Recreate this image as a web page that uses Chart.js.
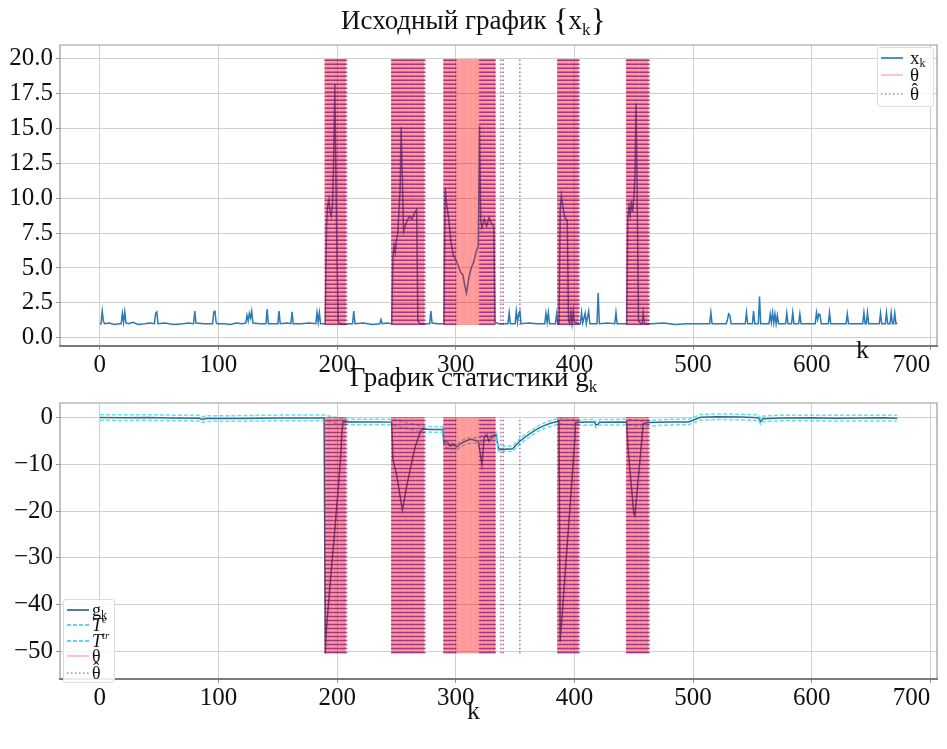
<!DOCTYPE html>
<html><head><meta charset="utf-8">
<script src="https://cdn.jsdelivr.net/npm/chart.js@4.4.1/dist/chart.umd.min.js"></script>
<style>
html,body{margin:0;padding:0;background:#fff;}
body{width:947px;height:749px;position:relative;overflow:hidden;font-family:"Liberation Serif","Times New Roman",serif;color:#111;}
canvas{position:absolute;left:0;}
#c1{top:0;}
#c2{top:385px;}
.title{position:absolute;left:0;width:947px;text-align:center;font-size:27px;line-height:30px;white-space:nowrap;}
.brace{font-size:32px;vertical-align:-2px;}
.title sub{font-size:17px;vertical-align:-6px;line-height:0;}
.lbl{position:absolute;font-size:26px;line-height:28px;}
.legend{position:absolute;background:rgba(255,255,255,0.85);border:1px solid #dcdcdc;border-radius:3px;box-sizing:border-box;}
.it{position:absolute;left:0;height:0;}
.it svg{position:absolute;top:-2px;}
.it .t{position:absolute;top:-11px;line-height:22px;white-space:nowrap;}
.leg1 .t{font-size:19px;}
.leg2 .t{font-size:18px;}
.t sub{font-size:12px;vertical-align:-3px;line-height:0;}
.t sup{font-size:11px;vertical-align:8px;line-height:0;}
.hat{position:relative;display:inline-block;line-height:22px;}
.hat .c{position:absolute;left:0;right:0;text-align:center;top:-0.2em;line-height:22px;}
</style>
</head><body>
<canvas id="c1" width="947" height="380"></canvas>
<canvas id="c2" width="947" height="364"></canvas>

<div class="title" style="top:5px">Исходный график <span class="brace">{</span>x<sub>k</sub><span class="brace">}</span></div>
<div class="title" style="top:362px">График статистики g<sub>k</sub></div>
<div class="lbl" style="left:856px;top:336px">k</div>
<div class="lbl" style="left:467px;top:697px">k</div>

<div class="legend leg1" style="left:877px;top:47px;width:57px;height:60px">
  <div class="it" style="top:10px"><svg width="22" height="4" style="left:3px"><line x1="0" y1="2" x2="22" y2="2" stroke="#4f93bd" stroke-width="2"/></svg><span class="t" style="left:32px">x<sub>k</sub></span></div>
  <div class="it" style="top:27px"><svg width="22" height="4" style="left:3px"><line x1="0" y1="2" x2="22" y2="2" stroke="rgba(255,0,0,0.3)" stroke-width="1.5"/></svg><span class="t" style="left:32px">θ</span></div>
  <div class="it" style="top:46px"><svg width="22" height="4" style="left:3px"><line x1="0" y1="2" x2="22" y2="2" stroke="rgba(110,40,120,0.55)" stroke-width="1.5" stroke-dasharray="1.5 2.5"/></svg><span class="t" style="left:32px"><span class="hat">θ<span class="c">ˆ</span></span></span></div>
</div>

<div class="legend leg2" style="left:63px;top:599px;width:52px;height:84px">
  <div class="it" style="top:10px"><svg width="22" height="4" style="left:3px"><line x1="0" y1="2" x2="22" y2="2" stroke="#4d8299" stroke-width="2"/></svg><span class="t" style="left:28px">g<sub>k</sub></span></div>
  <div class="it" style="top:25px"><svg width="22" height="4" style="left:3px"><line x1="0" y1="2" x2="22" y2="2" stroke="#5fd6e6" stroke-width="2" stroke-dasharray="4 2"/></svg><span class="t" style="left:28px"><i>T</i><sup><i>e</i></sup></span></div>
  <div class="it" style="top:41px"><svg width="22" height="4" style="left:3px"><line x1="0" y1="2" x2="22" y2="2" stroke="#5fd6e6" stroke-width="2" stroke-dasharray="4 2"/></svg><span class="t" style="left:28px"><i>T</i><sup><i>tr</i></sup></span></div>
  <div class="it" style="top:56px"><svg width="22" height="4" style="left:3px"><line x1="0" y1="2" x2="22" y2="2" stroke="rgba(255,0,0,0.3)" stroke-width="1.5"/></svg><span class="t" style="left:28px">θ</span></div>
  <div class="it" style="top:73px"><svg width="22" height="4" style="left:3px"><line x1="0" y1="2" x2="22" y2="2" stroke="rgba(110,40,120,0.55)" stroke-width="1.5" stroke-dasharray="1.5 2.5"/></svg><span class="t" style="left:28px"><span class="hat">θ<span class="c">ˆ</span></span></span></div>
</div>

<script>
// ---------- data ----------
const xTicks = [0, 100, 200, 300, 400, 500, 600, 700];
const xTopYTicks = [0, 2.5, 5, 7.5, 10, 12.5, 15, 17.5, 20];
const gYTicks = [-50, -40, -30, -20, -10, 0];

// x_k : [k, value]
const xk = [[0,1.0],[1,1.0],[2,1.9],[3,1.15],[4,1.0],[8,1.05],[12,0.95],[16,1.0],[18,1.0],[19,1.75],[20,1.1],[21,1.85],[22,1.05],[24,1.0],[28,1.1],[32,0.95],[38,1.0],[42,1.05],[46,1.0],[47,1.75],[48,1.85],[49,1.0],[55,1.05],[62,0.95],[70,1.0],[75,1.05],[79,1.0],[80,1.9],[81,1.05],[88,1.0],[95,1.0],[96,1.85],[97,1.9],[98,1.1],[99,1.0],[105,1.0],[110,0.95],[115,1.05],[120,1.0],[123,1.05],[124,1.6],[125,1.2],[126,1.75],[127,1.4],[128,1.9],[129,1.05],[135,1.0],[140,1.0],[141,2.05],[142,1.0],[146,1.0],[150,1.0],[151,1.9],[152,1.0],[158,1.05],[161,1.0],[162,1.85],[163,1.0],[170,1.0],[176,1.05],[182,1.0],[183,1.8],[184,1.1],[185,1.8],[186,1.0],[190,1.0],
[191,8.0],[192,9.5],[193,9.9],[194,9.0],[195,8.7],[196,9.4],[197,12.5],[198,18.2],[200,5.0],[201,1.1],[203,1.0],[206,0.95],[209,1.0],[213,1.0],[214,1.9],[215,1.0],[222,1.05],[230,0.95],[236,1.0],[237,1.3],[238,1.0],[242,1.05],[246,1.0],
[247,5.8],[248,6.6],[249,6.1],[250,7.0],[251,7.4],[253,10.5],[254,15.1],[256,7.6],[257,7.9],[259,8.4],[261,8.7],[263,8.5],[265,8.9],[267,9.2],[268,1.2],[270,1.0],[274,1.0],[278,1.0],[279,1.9],[280,1.05],[285,1.0],[290,1.0],
[291,10.7],[292,9.8],[294,8.5],[296,6.8],[298,5.9],[300,5.6],[302,5.2],[304,4.7],[306,4.5],[307,4.0],[309,3.2],[311,4.3],[313,5.0],[315,5.4],[317,6.1],[319,6.6],[320,15.2],[321,8.4],[322,7.9],[324,8.5],[326,8.0],[328,8.6],[330,8.2],[332,8.0],[333,1.1],[336,1.0],[340,1.0],[344,1.0],[345,1.8],[346,1.0],[350,1.0],[351,1.9],[352,1.1],[353,1.7],[354,1.9],[355,1.0],[362,1.05],[368,1.0],[375,1.0],[376,1.75],[377,1.1],[378,1.8],[379,1.0],[384,1.0],[385,1.7],[386,1.0],[387,1.0],
[388,9.2],[389,10.2],[390,9.5],[391,9.0],[392,8.6],[394,8.4],[395,1.2],[396,1.0],[397,1.8],[398,1.0],[399,1.9],[400,1.1],[404,1.0],[405,1.0],[406,1.8],[407,1.05],[409,1.75],[410,1.0],[412,1.9],[413,1.0],[419,1.0],[420,3.2],[421,1.0],[428,1.05],[434,1.0],[435,1.8],[436,1.0],[440,1.0],[444,1.0],
[445,8.5],[446,9.4],[447,8.8],[448,9.8],[449,9.0],[450,10.0],[451,11.5],[452,16.8],[453,9.5],[454,1.2],[456,1.0],[457,1.0],[458,1.8],[459,1.0],[465,1.0],[475,1.05],[485,0.95],[495,1.0],[505,1.0],[514,1.0],[515,1.8],[516,1.0],[528,1.0],[529,1.3],[530,1.7],[531,1.6],[532,1.0],[540,1.0],[544,1.0],[545,1.8],[546,1.0],[550,1.0],[551,1.9],[552,1.0],[555,1.0],[556,2.95],[557,1.0],[564,1.0],[565,1.7],[566,1.1],[567,1.8],[568,1.05],[569,1.7],[570,1.0],[571,1.6],[572,1.0],[578,1.0],[579,1.75],[580,1.0],[583,1.0],[584,1.8],[585,1.0],[589,1.0],[590,1.7],[591,1.0],[603,1.0],[604,1.8],[605,1.3],[606,1.7],[607,1.65],[608,1.0],[614,1.0],[615,1.8],[616,1.0],[629,1.0],[630,1.7],[631,1.0],[643,1.0],[644,1.8],[645,1.0],[646,1.0],[647,1.8],[648,1.0],[657,1.0],[658,1.75],[659,1.0],[662,1.0],[663,1.8],[664,1.0],[666,1.0],[667,1.8],[668,1.0],[669,1.0],[670,1.75],[671,1.0],[672,1.05]];

// g_k : [k, value]
const gk = [[0,0.1],[20,0.05],[40,0.1],[60,0.0],[84,-0.05],[86,-0.35],[90,-0.15],[120,-0.1],[150,0.0],[170,0.0],[189,0.0],[190,-50.5],[191,-45],[193,-39],[195,-33],[197,-27],[199,-21],[201,-15],[203,-8],[204,-3],[205,-0.8],[220,-0.9],[235,-0.85],[246,-0.9],[247,-9],[250,-12],[255,-19.8],[258,-15.5],[262,-10.5],[266,-6],[270,-3],[272,-2.4],[280,-2.5],[289,-2.5],[290,-5.5],[292,-5.0],[295,-6.0],[298,-5.8],[301,-6.2],[304,-5.5],[308,-5.0],[312,-4.6],[316,-4.8],[319,-5.0],[322,-10],[324,-4.2],[326,-3.6],[328,-5.0],[331,-3.8],[334,-3.6],[336,-6.6],[338,-6.8],[348,-6.6],[350,-6.0],[354,-5.0],[358,-4.2],[362,-3.5],[366,-2.8],[370,-2.2],[374,-1.7],[378,-1.3],[382,-1.0],[387,-0.7],[388,-48],[390,-41],[392,-34],[394,-27],[396,-20],[398,-13],[400,-6],[401,-1.0],[410,-0.9],[417,-0.9],[418,-1.5],[420,-1.4],[421,-0.95],[444,-0.9],[445,-6],[450,-20.5],[451,-21],[458,-1.2],[462,-1.0],[480,-0.9],[496,-0.85],[500,-0.5],[506,0.15],[520,0.25],[540,0.2],[555,0.05],[557,-0.75],[559,-0.2],[575,0.0],[600,0.05],[620,-0.05],[640,0.0],[660,0.05],[672,-0.05]];

// T^e (upper cyan dashed) : [k, value]
const Te = [[0,0.7],[20,0.65],[40,0.7],[60,0.6],[84,0.55],[86,0.25],[90,0.45],[120,0.5],[150,0.6],[189,0.6],[205,-0.2],[220,-0.3],[235,-0.25],[246,-0.3],[272,-1.8],[289,-1.9],[290,-4.9],[295,-5.4],[301,-5.6],[308,-4.4],[316,-4.2],[319,-4.4],[324,-3.6],[331,-3.2],[334,-3.0],[336,-6.0],[348,-6.0],[354,-4.4],[362,-2.9],[370,-1.6],[378,-0.7],[387,-0.1],[401,-0.4],[417,-0.3],[418,-0.9],[420,-0.8],[421,-0.35],[444,-0.3],[458,-0.6],[480,-0.3],[496,-0.25],[500,0.1],[506,0.75],[520,0.85],[540,0.8],[555,0.65],[557,-0.15],[559,0.4],[575,0.6],[620,0.55],[672,0.55]];

// T^tr (lower cyan dashed) : [k, value]
const Ttr = [[0,-0.5],[20,-0.55],[40,-0.5],[60,-0.6],[84,-0.65],[86,-0.95],[90,-0.75],[120,-0.7],[150,-0.6],[189,-0.6],[205,-1.4],[220,-1.5],[235,-1.45],[246,-1.5],[272,-3.0],[289,-3.1],[290,-6.1],[295,-6.6],[301,-6.8],[308,-5.6],[316,-5.4],[319,-5.6],[324,-4.8],[331,-4.4],[334,-4.2],[336,-7.2],[348,-7.2],[354,-5.6],[362,-4.1],[370,-2.8],[378,-1.9],[387,-1.3],[401,-1.6],[417,-1.5],[418,-2.1],[420,-2.0],[421,-1.55],[444,-1.5],[458,-1.8],[480,-1.5],[496,-1.45],[500,-1.1],[506,-0.45],[520,-0.35],[540,-0.4],[555,-0.55],[557,-1.35],[559,-0.8],[575,-0.6],[620,-0.65],[672,-0.65]];

// change intervals (inclusive k ranges)
const theta = [[190,207],[246,273],[290,333],[386,403],[444,462]];
const thetaHat = [[190,208],[246,274],[290,300],[320,333],[338,338],[340,340],[354,354],[386,404],[444,463]];

// extents of the vertical marks
const vTop = [0.9, 20.0];
const vBottom = [-50.5, 0.2];

// ---------- drawing ----------
const FONT = '"Liberation Serif","Times New Roman",serif';
Chart.defaults.font.family = FONT;
Chart.defaults.color = '#111';

const pts = arr => arr.map(([k, v]) => ({x: k, y: v}));

function vlines(ranges, y0, y1, style) {
  const out = [];
  for (const [a, b] of ranges) {
    for (let k = a; k <= b; k++) {
      out.push(Object.assign({data: [{x: k, y: y0}, {x: k, y: y1}]}, style));
    }
  }
  return out;
}
const redStyle = {borderColor: 'rgba(255,0,0,0.34)', borderWidth: 1.5, pointRadius: 0, borderCapStyle: 'butt', order: 1};
const purpleStyle = {borderColor: 'rgba(115,0,120,0.6)', borderWidth: 1.5, borderDash: [1.6, 2.4], pointRadius: 0, borderCapStyle: 'butt', order: 0};

const frame = {
  id: 'frame',
  afterDatasetsDraw(chart) {
    const {ctx, chartArea: a} = chart;
    ctx.save();
    ctx.strokeStyle = '#9a9a9a';
    ctx.lineWidth = 1.2;
    ctx.beginPath();
    ctx.moveTo(a.left, a.bottom); ctx.lineTo(a.left, a.top); ctx.lineTo(a.right, a.top); ctx.lineTo(a.right, a.bottom);
    ctx.stroke();
    ctx.strokeStyle = '#7a7a7a';
    ctx.lineWidth = 2;
    ctx.beginPath();
    ctx.moveTo(a.left - 1, a.bottom); ctx.lineTo(a.right + 1, a.bottom);
    ctx.stroke();
    ctx.restore();
  }
};

const X_MIN = -33.6, X_MAX = 705.6;
const GRID = '#d0d0d0';

function baseOptions(o) {
  return {
    responsive: false, animation: false, devicePixelRatio: 1,
    layout: {padding: {top: o.padTop, right: 10, left: 0, bottom: 0}},
    plugins: {legend: {display: false}, tooltip: {enabled: false}, title: {display: false}},
    elements: {point: {radius: 0}, line: {tension: 0}},
    scales: {
      x: {
        type: 'linear', min: X_MIN, max: X_MAX,
        // a blank anchor at the left bound keeps "0" centred while the last label stays inside
        afterBuildTicks: s => { s.ticks = [{value: X_MIN}].concat(xTicks.map(v => ({value: v}))); },
        ticks: {font: {size: 25, family: FONT}, color: '#111', padding: o.xPad, maxRotation: 0, autoSkip: false, align: 'inner',
                callback: v => (v < 0 ? '' : String(v))},
        grid: {color: c => (c.tick && c.tick.value < 0 ? 'rgba(0,0,0,0)' : GRID), lineWidth: 1, tickLength: 4,
               tickColor: c => (c.tick && c.tick.value < 0 ? 'rgba(0,0,0,0)' : '#999')},
        border: {display: false},
        afterFit: s => { s.height = o.xH; s.paddingLeft = 0; s.paddingRight = 0; }
      },
      y: {
        type: 'linear', min: o.yMin, max: o.yMax,
        afterBuildTicks: s => { s.ticks = o.yTicks.map(v => ({value: v})); },
        ticks: {font: {size: 25, family: FONT}, color: '#111', padding: 3, callback: o.yFmt},
        grid: {color: GRID, lineWidth: 1, tickLength: 4, tickColor: '#999'},
        border: {display: false},
        afterFit: s => { s.width = 60; s.paddingTop = 0; s.paddingBottom = 0; }
      }
    }
  };
}

// top chart
new Chart(document.getElementById('c1'), {
  type: 'line',
  data: {datasets: [
    {label: 'x_k', data: pts(xk), borderColor: '#2a7ab5', borderWidth: 1.5, pointRadius: 0, order: 2},
    ...vlines(theta, vTop[0], vTop[1], redStyle),
    ...vlines(thetaHat, vTop[0], vTop[1], purpleStyle)
  ]},
  options: baseOptions({padTop: 45, xH: 34, xPad: 0, yMin: -0.6, yMax: 21.0, yTicks: xTopYTicks, yFmt: v => v.toFixed(1)}),
  plugins: [frame]
});

// bottom chart
new Chart(document.getElementById('c2'), {
  type: 'line',
  data: {datasets: [
    {label: 'g_k', data: pts(gk), borderColor: '#2f6b8c', borderWidth: 1.5, pointRadius: 0, order: 3},
    {label: 'T^e', data: pts(Te), borderColor: 'rgba(70,220,235,0.85)', borderWidth: 1.5, borderDash: [4, 2], pointRadius: 0, order: 2},
    {label: 'T^tr', data: pts(Ttr), borderColor: 'rgba(70,220,235,0.85)', borderWidth: 1.5, borderDash: [4, 2], pointRadius: 0, order: 2},
    ...vlines(theta, vBottom[0], vBottom[1], redStyle),
    ...vlines(thetaHat, vBottom[0], vBottom[1], purpleStyle)
  ]},
  options: baseOptions({padTop: 18, xH: 70, xPad: 0, yMin: -56, yMax: 3.2, yTicks: gYTicks, yFmt: v => (v < 0 ? '\u2212' + Math.abs(v) : String(v))}),
  plugins: [frame]
});
</script>
</body></html>
